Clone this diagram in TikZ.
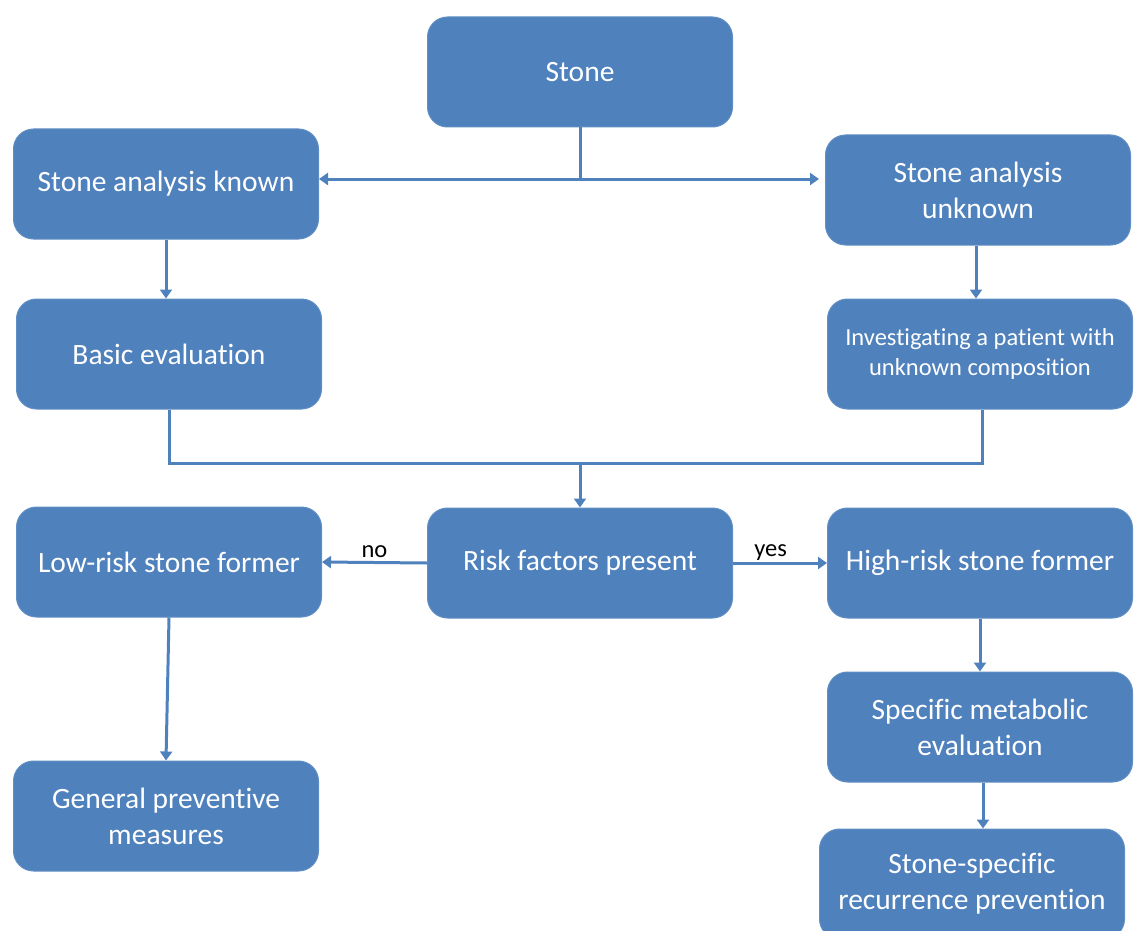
\documentclass[tikz,border=0pt]{standalone}
\usepackage{fontspec}
\setmainfont{Carlito}[Ligatures=NoCommon]
\usetikzlibrary{arrows.meta}
\definecolor{boxblue}{HTML}{4F81BD}
\tikzset{
  box/.style={draw=boxblue!90!white, line width=1pt, fill=boxblue, rounded corners=20pt,
    minimum width=305pt, minimum height=110pt, text=white, align=center, font=\fontsize{29.5}{36}\selectfont, inner sep=0pt},
  conn/.style={draw=boxblue, line width=3pt},
  arr/.style={conn, -{Triangle[length=9pt,width=12pt]}},
  lbl/.style={font=\fontsize{24.5}{28}\selectfont, text=black}
}
\begin{document}
\begin{tikzpicture}[x=1pt,y=-1pt]
\useasboundingbox (0,0) rectangle (1143,931);
\begin{scope}
\clip (0,0) rectangle (1143,931);
\node[box] (stone) at (580,72) {Stone};
\node[box] (known) at (166,184) {Stone analysis known};
\node[box] (unknown) at (978,190) {Stone analysis\\unknown};
\node[box] (basic) at (169,354) {Basic evaluation};
\node[box, font=\fontsize{24.5}{30}\selectfont] (invest) at (980,354) {Investigating a patient with\\unknown composition};
\node[box] (low) at (169,562) {Low-risk stone former};
\node[box] (risk) at (580,563) {Risk factors present};
\node[box] (high) at (980,563) {High-risk stone former};
\node[box] (spec) at (980,727) {Specific metabolic\\evaluation};
\node[box] (gen) at (166,816) {General preventive\\measures};
\node[box] (recur) at (972,884) {Stone-specific\\recurrence prevention};
\end{scope}
\coordinate (split) at (580,179);
\coordinate (merge) at (580,463);
\draw[conn] (stone.south) -- (split);
\draw[arr] (split) -- (known.east |- split);
\draw[arr] (split) -- ([xshift=-6pt]unknown.west |- split);
\draw[arr] (known.south) -- (known.south |- basic.north);
\draw[arr] ([xshift=-2pt]unknown.south) -- ([xshift=-2pt]unknown.south |- invest.north);
\draw[conn] (basic.south) -- (basic.south |- merge) -- ([xshift=2pt]invest.south |- merge) -- ([xshift=2pt]invest.south);
\draw[arr] (merge) -- (risk.north);
\draw[arr] (risk.west) -- node[lbl, above, pos=0.5] {no} (low.east);
\draw[arr] (risk.east) -- node[lbl, above, pos=0.4, yshift=-2pt] {yes} (high.west);
\draw[arr] (low.south) -- (gen.north);
\draw[arr] (high.south) -- (spec.north);
\draw[arr] ([xshift=3pt]spec.south) -- ([xshift=3pt]spec.south |- recur.north);
\end{tikzpicture}
\end{document}
